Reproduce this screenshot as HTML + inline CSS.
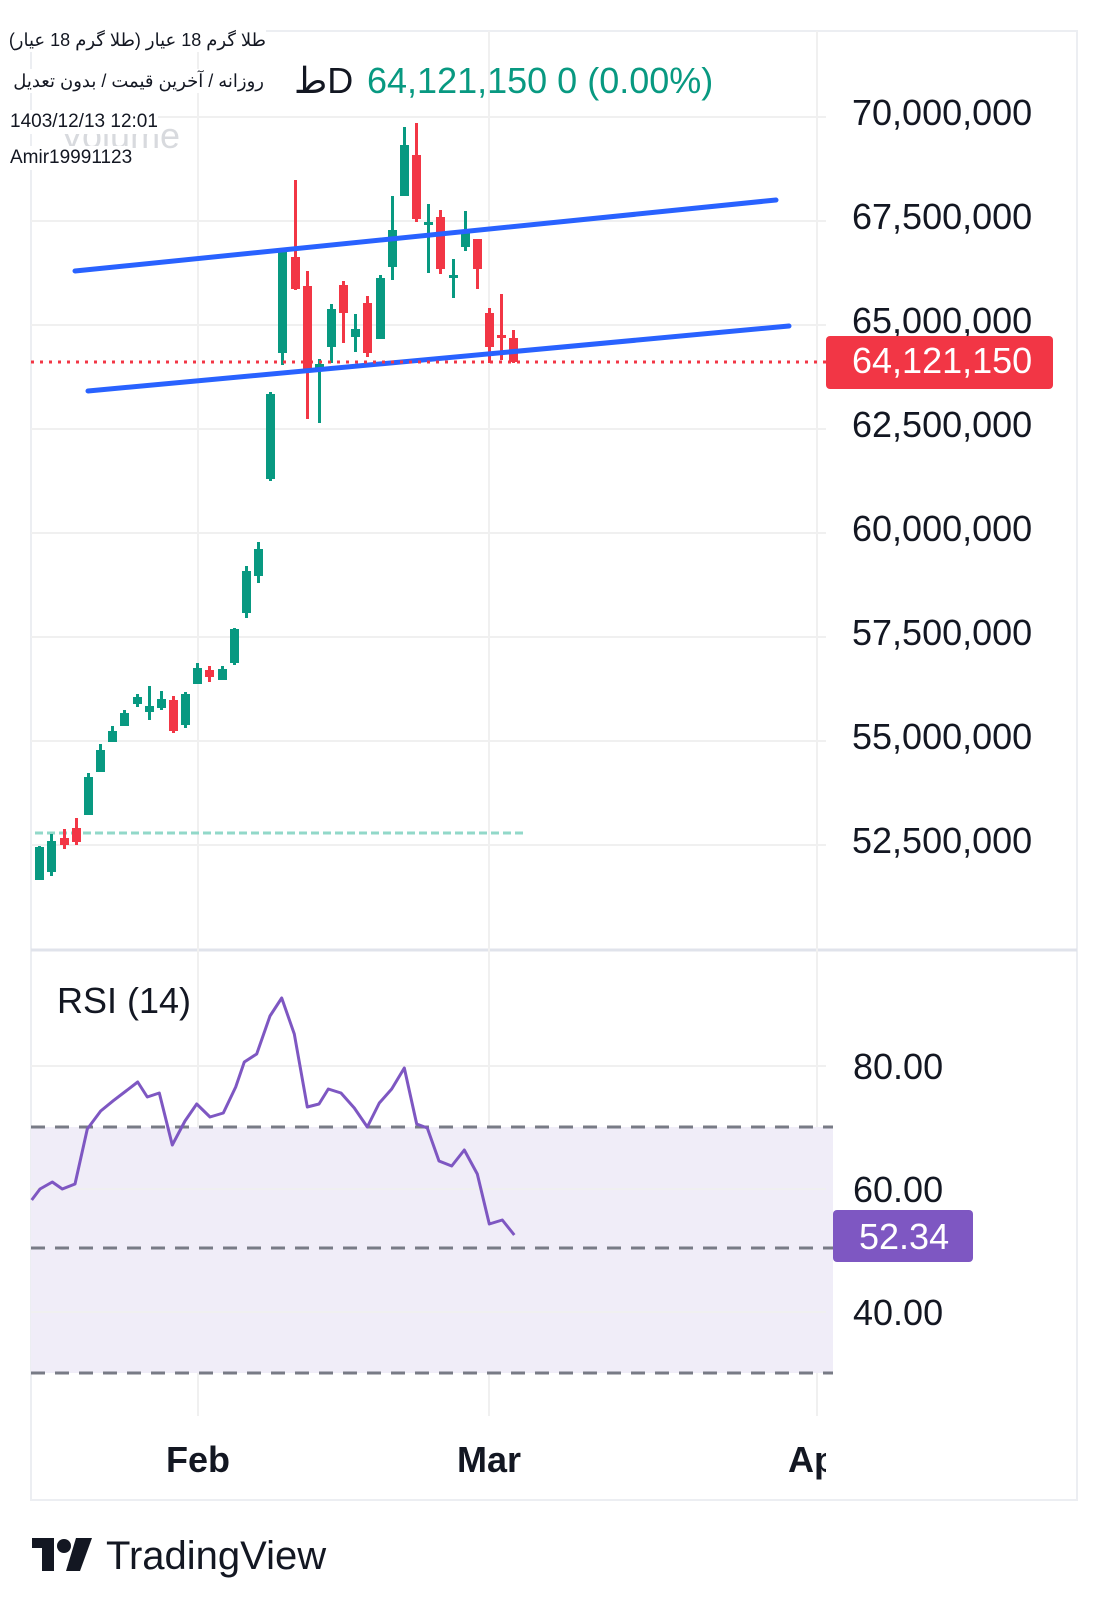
<!DOCTYPE html>
<html><head><meta charset="utf-8"><style>
html,body{margin:0;padding:0;background:#fff;}
svg{display:block;position:absolute;left:0;top:0;}
.t{position:absolute;font-family:"Liberation Sans","Noto Sans CJK SC",sans-serif;font-size:19px;color:#131722;background:#fff;white-space:nowrap;line-height:24px;}
.p{font-size:18px;}
</style></head><body>
<svg width="1108" height="1609" viewBox="0 0 1108 1609" xmlns="http://www.w3.org/2000/svg" font-family="Liberation Sans, 'Noto Sans CJK SC', sans-serif">
<rect width="1108" height="1609" fill="#fff"/>
<rect x="31" y="31" width="1046" height="1469" fill="none" stroke="#eceef2" stroke-width="2"/>
<line x1="31" y1="950" x2="1077" y2="950" stroke="#e0e3eb" stroke-width="3"/>
<line x1="817" y1="31" x2="817" y2="1416" stroke="#f0f0f0" stroke-width="2"/>
<g stroke="#f0f0f0" stroke-width="2">
<line x1="198" y1="31" x2="198" y2="1416"/><line x1="489" y1="31" x2="489" y2="1416"/>
</g>
<g stroke="#f0f0f0" stroke-width="2">
<line x1="31" y1="117" x2="826" y2="117"/><line x1="31" y1="221" x2="826" y2="221"/>
<line x1="31" y1="325" x2="826" y2="325"/><line x1="31" y1="429" x2="826" y2="429"/>
<line x1="31" y1="533" x2="826" y2="533"/><line x1="31" y1="637" x2="826" y2="637"/>
<line x1="31" y1="741" x2="826" y2="741"/><line x1="31" y1="845" x2="826" y2="845"/>
</g>
<g font-size="36" fill="#131722">
<text x="852" y="125">70,000,000</text><text x="852" y="229">67,500,000</text>
<text x="852" y="333">65,000,000</text><text x="852" y="437">62,500,000</text>
<text x="852" y="541">60,000,000</text><text x="852" y="645">57,500,000</text>
<text x="852" y="749">55,000,000</text><text x="852" y="853">52,500,000</text>
</g>
<line x1="35" y1="833" x2="523" y2="833" stroke="#92d8c9" stroke-width="3" stroke-dasharray="8,4"/>
<g fill="#089981">
<rect x="38" y="846" width="3" height="34"/><rect x="35" y="847" width="9" height="33"/>
<rect x="50" y="834" width="3" height="42"/><rect x="47" y="841" width="9" height="31"/>
<rect x="87" y="773" width="3" height="42"/><rect x="84" y="777" width="9" height="38"/>
<rect x="99" y="744" width="3" height="28"/><rect x="96" y="750" width="9" height="22"/>
<rect x="111" y="726" width="3" height="16"/><rect x="108" y="731" width="9" height="11"/>
<rect x="123" y="710" width="3" height="16"/><rect x="120" y="713" width="9" height="13"/>
<rect x="136" y="694" width="3" height="13"/><rect x="133" y="697" width="9" height="7"/>
<rect x="148" y="686" width="3" height="34"/><rect x="145" y="706" width="9" height="6"/>
<rect x="160" y="691" width="3" height="19"/><rect x="157" y="699" width="9" height="9"/>
<rect x="184" y="692" width="3" height="36"/><rect x="181" y="694" width="9" height="31"/>
<rect x="196" y="663" width="3" height="21"/><rect x="193" y="668" width="9" height="16"/>
<rect x="221" y="666" width="3" height="14"/><rect x="218" y="669" width="9" height="11"/>
<rect x="233" y="628" width="3" height="37"/><rect x="230" y="629" width="9" height="34"/>
<rect x="245" y="566" width="3" height="52"/><rect x="242" y="571" width="9" height="42"/>
<rect x="257" y="542" width="3" height="41"/><rect x="254" y="549" width="9" height="27"/>
<rect x="269" y="392" width="3" height="89"/><rect x="266" y="394" width="9" height="85"/>
<rect x="281" y="250" width="3" height="115"/><rect x="278" y="250" width="9" height="103"/>
<rect x="318" y="359" width="3" height="64"/><rect x="315" y="364" width="9" height="5"/>
<rect x="330" y="304" width="3" height="59"/><rect x="327" y="309" width="9" height="38"/>
<rect x="354" y="314" width="3" height="38"/><rect x="351" y="329" width="9" height="8"/>
<rect x="379" y="275" width="3" height="64"/><rect x="376" y="278" width="9" height="61"/>
<rect x="391" y="196" width="3" height="84"/><rect x="388" y="230" width="9" height="37"/>
<rect x="403" y="127" width="3" height="69"/><rect x="400" y="145" width="9" height="51"/>
<rect x="427" y="204" width="3" height="69"/><rect x="424" y="222" width="9" height="3"/>
<rect x="452" y="259" width="3" height="39"/><rect x="449" y="275" width="9" height="3"/>
<rect x="464" y="211" width="3" height="40"/><rect x="461" y="233" width="9" height="14"/>
</g>
<g fill="#f23645">
<rect x="63" y="829" width="3" height="20"/><rect x="60" y="838" width="9" height="7"/>
<rect x="75" y="818" width="3" height="27"/><rect x="72" y="828" width="9" height="14"/>
<rect x="172" y="696" width="3" height="37"/><rect x="169" y="700" width="9" height="31"/>
<rect x="208" y="666" width="3" height="16"/><rect x="205" y="670" width="9" height="7"/>
<rect x="294" y="180" width="3" height="110"/><rect x="291" y="257" width="9" height="32"/>
<rect x="306" y="271" width="3" height="148"/><rect x="303" y="286" width="9" height="86"/>
<rect x="342" y="281" width="3" height="62"/><rect x="339" y="285" width="9" height="28"/>
<rect x="366" y="296" width="3" height="61"/><rect x="363" y="303" width="9" height="50"/>
<rect x="415" y="123" width="3" height="99"/><rect x="412" y="155" width="9" height="64"/>
<rect x="439" y="210" width="3" height="64"/><rect x="436" y="217" width="9" height="52"/>
<rect x="476" y="239" width="3" height="50"/><rect x="473" y="239" width="9" height="30"/>
<rect x="488" y="308" width="3" height="55"/><rect x="485" y="313" width="9" height="34"/>
<rect x="500" y="294" width="3" height="66"/><rect x="497" y="335" width="9" height="3"/>
<rect x="512" y="330" width="3" height="33"/><rect x="509" y="338" width="9" height="24"/>
</g>
<line x1="75" y1="271" x2="776" y2="200" stroke="#2962ff" stroke-width="5" stroke-linecap="round"/>
<line x1="88" y1="391" x2="789" y2="326" stroke="#2962ff" stroke-width="5" stroke-linecap="round"/>
<line x1="31" y1="362" x2="826" y2="362" stroke="#f23645" stroke-width="3" stroke-dasharray="3,6"/>
<rect x="826" y="336" width="227" height="53" rx="4" fill="#f23645"/>
<text x="852" y="373" font-size="36" fill="#fff">64,121,150</text>
<text x="60" y="148" font-size="36" fill="#d8dade">Volume</text>
<text x="294" y="93" font-size="36" fill="#131722">طD</text>
<text x="367" y="93" font-size="36" fill="#089981">64,121,150  0 (0.00%)</text>
<rect x="31" y="1127" width="802" height="246" fill="#f0edf8"/>
<g stroke="#f0f0f0" stroke-width="2">
<line x1="31" y1="1066" x2="826" y2="1066"/><line x1="31" y1="1189" x2="826" y2="1189"/><line x1="31" y1="1312" x2="826" y2="1312"/>
</g>
<g stroke="#787b86" stroke-width="3" stroke-dasharray="14,10">
<line x1="31" y1="1127" x2="833" y2="1127"/><line x1="31" y1="1248" x2="833" y2="1248"/><line x1="31" y1="1373" x2="833" y2="1373"/>
</g>
<polyline fill="none" stroke="#7e57c2" stroke-width="3" stroke-linejoin="round" points="31.7,1200 40,1189 52.3,1182 62.3,1189 75,1184 87.3,1129 100.7,1111 113.3,1100.7 126,1091 137.7,1082 147.3,1097 159.3,1093 172.3,1145 185,1121 196.7,1104 210,1117 223.3,1113 235.7,1087 244.3,1062 256.7,1054 270,1016 281.7,998 294.3,1034 307.3,1107 319,1104 328.3,1089 341,1093 354.3,1108 367.3,1127 379.3,1103 391.7,1089 404.3,1068 416.7,1124 427.3,1128 439,1161 451.7,1166 464.3,1150 477.3,1174 489.3,1224 502.3,1220 514.3,1235"/>
<text x="57" y="1013" font-size="36" fill="#131722">RSI (14)</text>
<g font-size="36" fill="#131722">
<text x="853" y="1079">80.00</text><text x="853" y="1202">60.00</text><text x="853" y="1325">40.00</text>
</g>
<rect x="833" y="1210" width="140" height="52" rx="4" fill="#7e57c2"/>
<text x="859" y="1249" font-size="36" fill="#fff">52.34</text>
<g font-size="36" font-weight="bold" fill="#131722" text-anchor="middle">
<text x="198" y="1472">Feb</text><text x="489" y="1472">Mar</text>
</g>
<svg x="0" y="1420" width="826" height="70"><text x="788" y="52" font-size="36" font-weight="bold" fill="#131722">Apr</text></svg>
<g fill="#131722">
<rect x="32" y="1538" width="22" height="10"/><rect x="42" y="1538" width="12" height="33"/>
<circle cx="64" cy="1546" r="7"/>
<polygon points="76,1538 92,1538 80,1571 66,1571"/>
</g>
<text x="106" y="1569" font-size="40" fill="#131722">TradingView</text>
</svg>
<div class="t p" style="right:842px;top:28px;" dir="rtl">طلا گرم 18 عیار (طلا گرم 18 عیار)</div>
<div class="t p" style="right:844px;top:69px;" dir="rtl">روزانه / آخرین قیمت / بدون تعدیل</div>
<div class="t" style="left:10px;top:110px;">1403/12/13 12:01</div>
<div class="t" style="left:10px;top:146px;">Amir19991123</div>
</body></html>
